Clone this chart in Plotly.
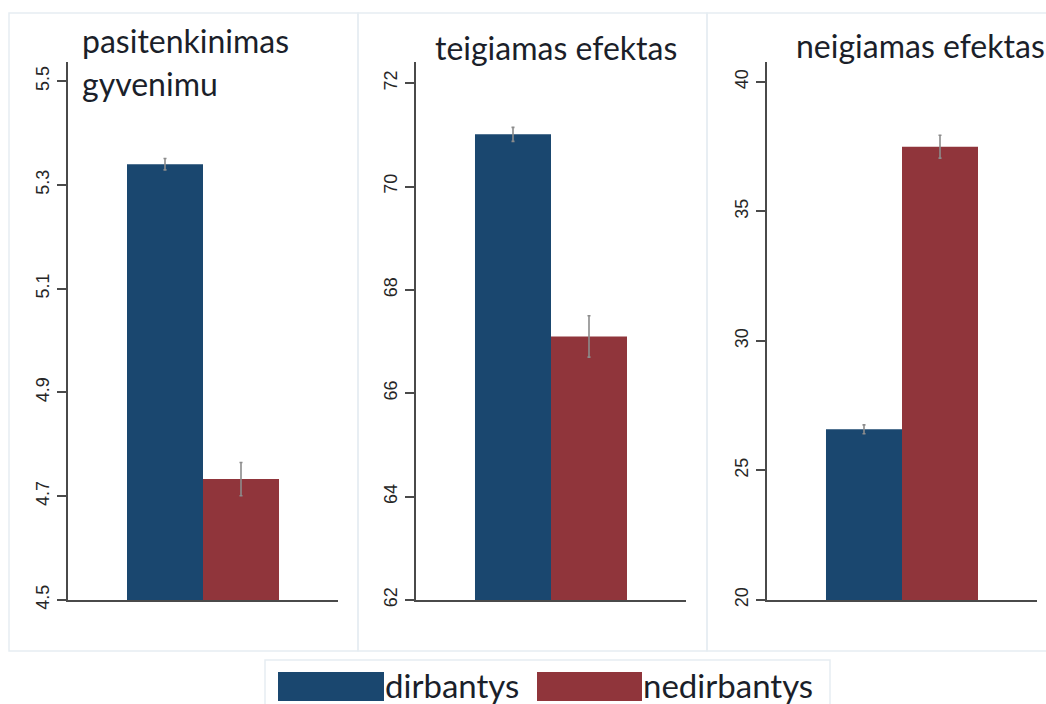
import plotly.graph_objects as go

# Group means and error-bar half-widths per measure
panel_titles = [["pasitenkinimas", "gyvenimu"], ["teigiamas efektas"], ["neigiamas efektas"]]
groups = ["dirbantys", "nedirbantys"]
dirbantys_mean = [5.340, 71.01, 26.59]
dirbantys_err = [0.011, 0.135, 0.17]
nedirbantys_mean = [4.733, 67.10, 37.50]
nedirbantys_err = [0.032, 0.40, 0.44]

# Y-axis ticks per panel
y_ticks = [
    [4.5, 4.7, 4.9, 5.1, 5.3, 5.5],
    [62, 64, 66, 68, 70, 72],
    [20, 25, 30, 35, 40],
]
y_tick_text = [
    ["4.5", "4.7", "4.9", "5.1", "5.3", "5.5"],
    ["62", "64", "66", "68", "70", "72"],
    ["20", "25", "30", "35", "40"],
]
y_ranges = [[4.5, 5.537], [62, 72.41], [20, 40.77]]

NAVY = "#1a476f"
MAROON = "#90353b"
ERR = "#8c8c8c"
AXIS = "#4a4a4a"
FRAME = "#e6edf2"
TEXT = "#1b1f2a"

W, H = 1046, 704


def px(x):
    return x / W


def py(y):
    return 1 - y / H


# Plot areas (pixel left edge of each y-axis, width of each panel's plot area)
axis_left = [68, 416, 767]
plot_w = 270
plot_top, plot_bottom = 62, 600

fig = go.Figure()
colors = [NAVY, MAROON]
means = [dirbantys_mean, nedirbantys_mean]
errs = [dirbantys_err, nedirbantys_err]

for i in range(3):
    xa = "x" if i == 0 else f"x{i + 1}"
    ya = "y" if i == 0 else f"y{i + 1}"
    for g in range(2):
        fig.add_trace(go.Bar(
            x=["m"], y=[means[g][i]], name=groups[g],
            marker=dict(color=colors[g], line=dict(width=0)),
            error_y=dict(type="data", array=[errs[g][i]], color=ERR,
                         thickness=1.6, width=1.5),
            xaxis=xa, yaxis=ya, showlegend=False, offsetgroup=str(g),
        ))
    key = "" if i == 0 else str(i + 1)
    fig.layout["xaxis" + key] = dict(
        domain=[px(axis_left[i]), px(axis_left[i] + plot_w)],
        range=[-0.5, 0.5], showticklabels=False, ticks="",
        showline=True, linecolor=AXIS, linewidth=2, showgrid=False,
        zeroline=False, anchor="y" + key, fixedrange=True, automargin=False,
    )
    fig.layout["yaxis" + key] = dict(
        domain=[py(plot_bottom), py(plot_top)], range=y_ranges[i],
        tickvals=y_ticks[i], ticktext=y_tick_text[i], tickangle=-90,
        ticks="outside", ticklen=9, tickwidth=1.5, tickcolor=AXIS,
        showline=True, linecolor=AXIS, linewidth=2, showgrid=False,
        zeroline=False, anchor="x" + key, ticklabelstandoff=1,
        tickfont=dict(family="Liberation Sans, Arial", size=18, color="#262626"),
        fixedrange=True, automargin=False,
    )

shapes = []
# Light frames around each panel
for x0, x1 in [(9, 358), (358, 707), (707, 1050)]:
    shapes.append(dict(type="rect", xref="paper", yref="paper",
                       x0=px(x0), x1=px(x1), y0=py(651), y1=py(13),
                       line=dict(color=FRAME, width=1.5), fillcolor="rgba(0,0,0,0)",
                       layer="below"))
# Legend frame and swatches
shapes.append(dict(type="rect", xref="paper", yref="paper",
                   x0=px(265), x1=px(830), y0=py(708), y1=py(660),
                   line=dict(color=FRAME, width=1.5), fillcolor="rgba(0,0,0,0)"))
legend_items = [(278, 384, 383), (537, 642, 641)]
annotations = []
for (sx0, sx1, tx), col, name in zip(legend_items, colors, groups):
    shapes.append(dict(type="rect", xref="paper", yref="paper",
                       x0=px(sx0), x1=px(sx1), y0=py(701), y1=py(672),
                       line=dict(width=0), fillcolor=col))
    annotations.append(dict(xref="paper", yref="paper", x=px(tx), y=py(685),
                            xanchor="left", yanchor="middle", showarrow=False,
                            text=name, font=dict(family="Lato", size=33, color=TEXT)))

# Panel titles
title_pos = [(80, [41, 83]), (433, [47]), (794, [46])]
for lines, (tx, ys) in zip(panel_titles, title_pos):
    for line, ty in zip(lines, ys):
        annotations.append(dict(xref="paper", yref="paper", x=px(tx), y=py(ty),
                                xanchor="left", yanchor="middle", showarrow=False,
                                text=line, font=dict(family="Lato", size=32, color=TEXT)))

fig.update_layout(
    width=W, height=H, margin=dict(l=0, r=0, t=0, b=0),
    paper_bgcolor="white", plot_bgcolor="white",
    barmode="group", bargap=0.437, bargroupgap=0,
    shapes=shapes, annotations=annotations,
)

fig.write_html("out.html")
